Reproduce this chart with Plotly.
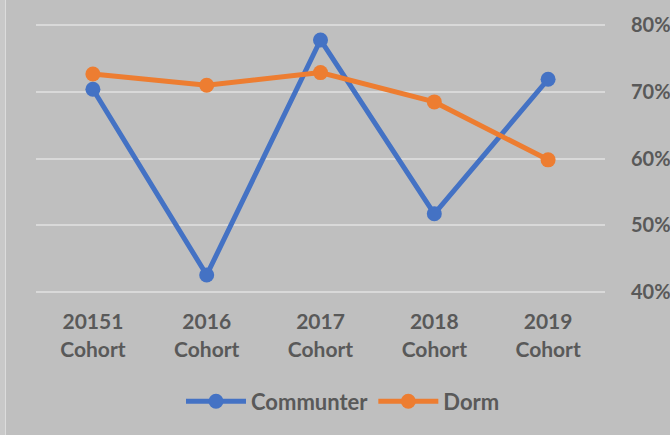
import plotly.graph_objects as go

categories = ["20151<br>Cohort", "2016<br>Cohort", "2017<br>Cohort", "2018<br>Cohort", "2019<br>Cohort"]
commuter = [0.704, 0.425, 0.778, 0.517, 0.719]
dorm = [0.727, 0.710, 0.729, 0.685, 0.598]
y_ticks = [0.4, 0.5, 0.6, 0.7, 0.8]

W, H = 670, 435
L, R, T, B = 36, 65, 24, 138
FONT = "Lato"
TXT = "#595959"

fig = go.Figure()
fig.add_trace(go.Scatter(x=categories, y=commuter, name="Communter", mode="lines+markers",
                         line=dict(color="#4472C4", width=5),
                         marker=dict(color="#4472C4", size=15)))
fig.add_trace(go.Scatter(x=categories, y=dorm, name="Dorm  ", mode="lines+markers",
                         line=dict(color="#ED7D31", width=5),
                         marker=dict(color="#ED7D31", size=15)))

pw = W - L - R
ph = H - T - B
def px2paper(px):
    return (px - L) / pw
def py2paper(py):
    return (H - B - py) / ph

fig.add_shape(type="rect", xref="paper", yref="paper", x0=px2paper(0), x1=px2paper(5),
              y0=-10, y1=10, fillcolor="#C9C9C9", line_width=0, layer="below")
fig.add_shape(type="line", xref="paper", yref="paper", x0=px2paper(5.5), x1=px2paper(5.5),
              y0=-10, y1=10, line=dict(color="#DCDCDC", width=1), layer="below")

fig.update_layout(
    width=W, height=H,
    margin=dict(l=L, r=R, t=T, b=B),
    paper_bgcolor="#BFBFBF", plot_bgcolor="#BFBFBF",
    font=dict(family=FONT, size=20, color=TXT),
    xaxis=dict(showgrid=False, zeroline=False, showline=False, automargin=False,
               range=[-0.5, 4.5], fixedrange=True,
               tickfont=dict(family=FONT, size=21, color=TXT, weight="bold"),
               ticks="outside", ticklen=10, tickcolor="rgba(0,0,0,0)"),
    yaxis=dict(side="right", range=[0.398, 0.802], tickvals=y_ticks, tickformat=".0%",
               automargin=False, fixedrange=True,
               showgrid=True, gridcolor="#D9D9D9", gridwidth=2, zeroline=False, showline=False,
               tickfont=dict(family=FONT, size=20, color=TXT, weight="bold"),
               ticks="outside", ticklen=21, tickcolor="rgba(0,0,0,0)"),
    legend=dict(orientation="h", x=px2paper(181), xanchor="left", y=py2paper(407),
                yanchor="middle", font=dict(family=FONT, size=22, color=TXT, weight="bold"),
                bgcolor="rgba(0,0,0,0)", itemwidth=60),
    showlegend=True,
)
fig.write_html("out.html", config={"displayModeBar": False},
               post_script="document.body.style.margin='0';")
